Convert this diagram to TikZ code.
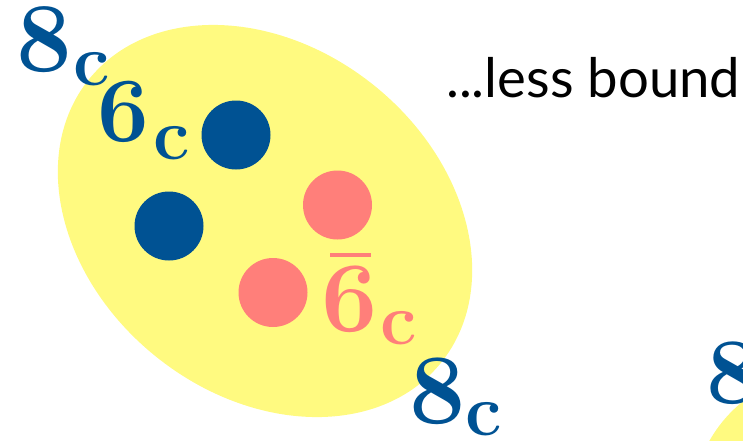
\documentclass[tikz,border=0pt]{standalone}
\usepackage{fontspec}
\newfontfamily\gill{Lato}
\definecolor{cblue}{RGB}{0,82,147}
\definecolor{cpink}{RGB}{255,127,122}
\definecolor{cyell}{RGB}{255,250,128}
\begin{document}
\begin{tikzpicture}[x=1pt,y=1pt,
  quark/.style={circle,fill=#1,minimum size=69pt,inner sep=0pt},
  digit/.style={inner sep=0pt,anchor=base,font=\fontsize{#1}{#1}\selectfont\bfseries},
  subc/.style={inner sep=0pt,anchor=base,font=\fontsize{73}{73}\selectfont\bfseries}]
\useasboundingbox (0,0) rectangle (743,440);
\clip (0,0) rectangle (743,440);
\fill[cyell] (265,219) ellipse[x radius=226,y radius=174,rotate=-38.8];
\fill[cyell] (898,-124) ellipse[x radius=226,y radius=174,rotate=-38.8];
\node[quark=cblue] (b1) at (236,305) {};
\node[quark=cblue] (b2) at (169,214) {};
\node[quark=cpink] (p1) at (337.5,235) {};
\node[quark=cpink] (p2) at (273,147.5) {};
% 8_c top left
\node[digit=99,text=cblue] (a8) at (44,368) {8};
\node[subc,text=cblue] (ac) at (91.5,355) {c};
% 6_c
\node[digit=92,text=cblue] (b6) at (123.5,299) {6};
\node[subc,text=cblue] (bc) at (171.5,281) {c};
% anti-6_c
\node[digit=100,text=cpink] (c6) at (350,109) {6};
\node[subc,text=cpink] (cc) at (398.5,96) {c};
\fill[cpink] (330,182.8) rectangle (371,187.4);
% 8_c bottom
\node[digit=100,text=cblue] (d8) at (437.5,17) {8};
\node[subc,text=cblue] (dc) at (483.5,5) {c};
% partial 8 right
\node[digit=94,text=cblue] (e8) at (732.5,37) {8};
\node[inner sep=0pt,anchor=base west,font=\gill\fontsize{54.5}{54.5}\selectfont] (t) at (446,342) {...less bound};
\end{tikzpicture}
\end{document}
